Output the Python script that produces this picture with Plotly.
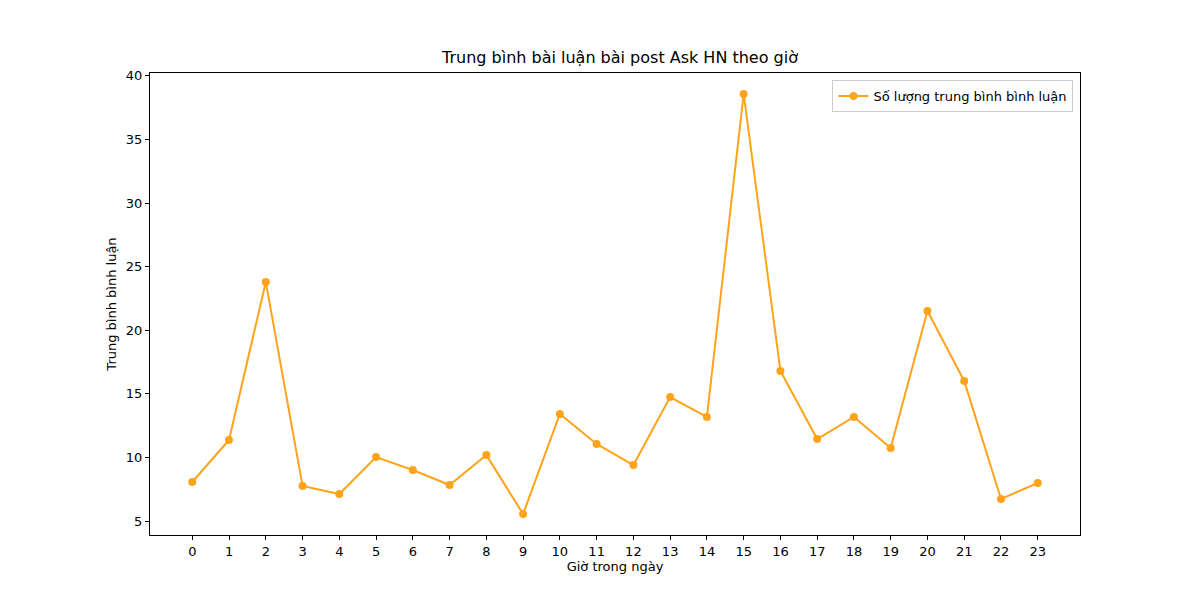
import plotly.graph_objects as go

hours = list(range(24))
avg_comments = [8.07, 11.37, 23.8, 7.75, 7.12, 10.03, 9.01, 7.83, 10.19, 5.55,
                13.42, 11.06, 9.40, 14.75, 13.18, 38.58, 16.8, 11.45, 13.18, 10.74,
                21.52, 16.01, 6.73, 7.99]

font = "DejaVu Sans"

fig = go.Figure()
fig.add_trace(go.Scatter(
    x=hours, y=avg_comments,
    mode="lines+markers",
    name="Số lượng trung bình bình luận",
    line=dict(color="#FFA31A", width=2),
    marker=dict(color="#FFA31A", size=8),
))

axis_common = dict(
    showgrid=False, zeroline=False, showline=True, linecolor="black", linewidth=1,
    mirror=True, ticks="outside", ticklen=4, tickcolor="black",
    tickfont=dict(family=font, size=13, color="black"),
)

fig.update_layout(
    width=1200, height=600,
    paper_bgcolor="white", plot_bgcolor="white",
    margin=dict(l=142, r=128, t=65, b=73),
    title=dict(text="Trung bình bài luận bài post Ask HN theo giờ",
               x=0.51, xanchor="center", y=0.908, yanchor="bottom",
               font=dict(family=font, size=16, color="black")),
    xaxis=dict(axis_common, range=[-1.15, 24.15], tickmode="array", tickvals=hours,
               title=dict(text="Giờ trong ngày", standoff=4,
                          font=dict(family=font, size=13, color="black"))),
    yaxis=dict(axis_common, range=[3.9, 40.23], tickvals=[5, 10, 15, 20, 25, 30, 35, 40],
               title=dict(text="Trung bình bình luận", standoff=6,
                          font=dict(family=font, size=13, color="black"))),
    showlegend=True,
    legend=dict(x=0.993, y=0.985, xanchor="right", yanchor="top",
                bordercolor="#CCCCCC", borderwidth=1, bgcolor="white",
                font=dict(family=font, size=13, color="black")),
)

fig.write_html("out.html")
